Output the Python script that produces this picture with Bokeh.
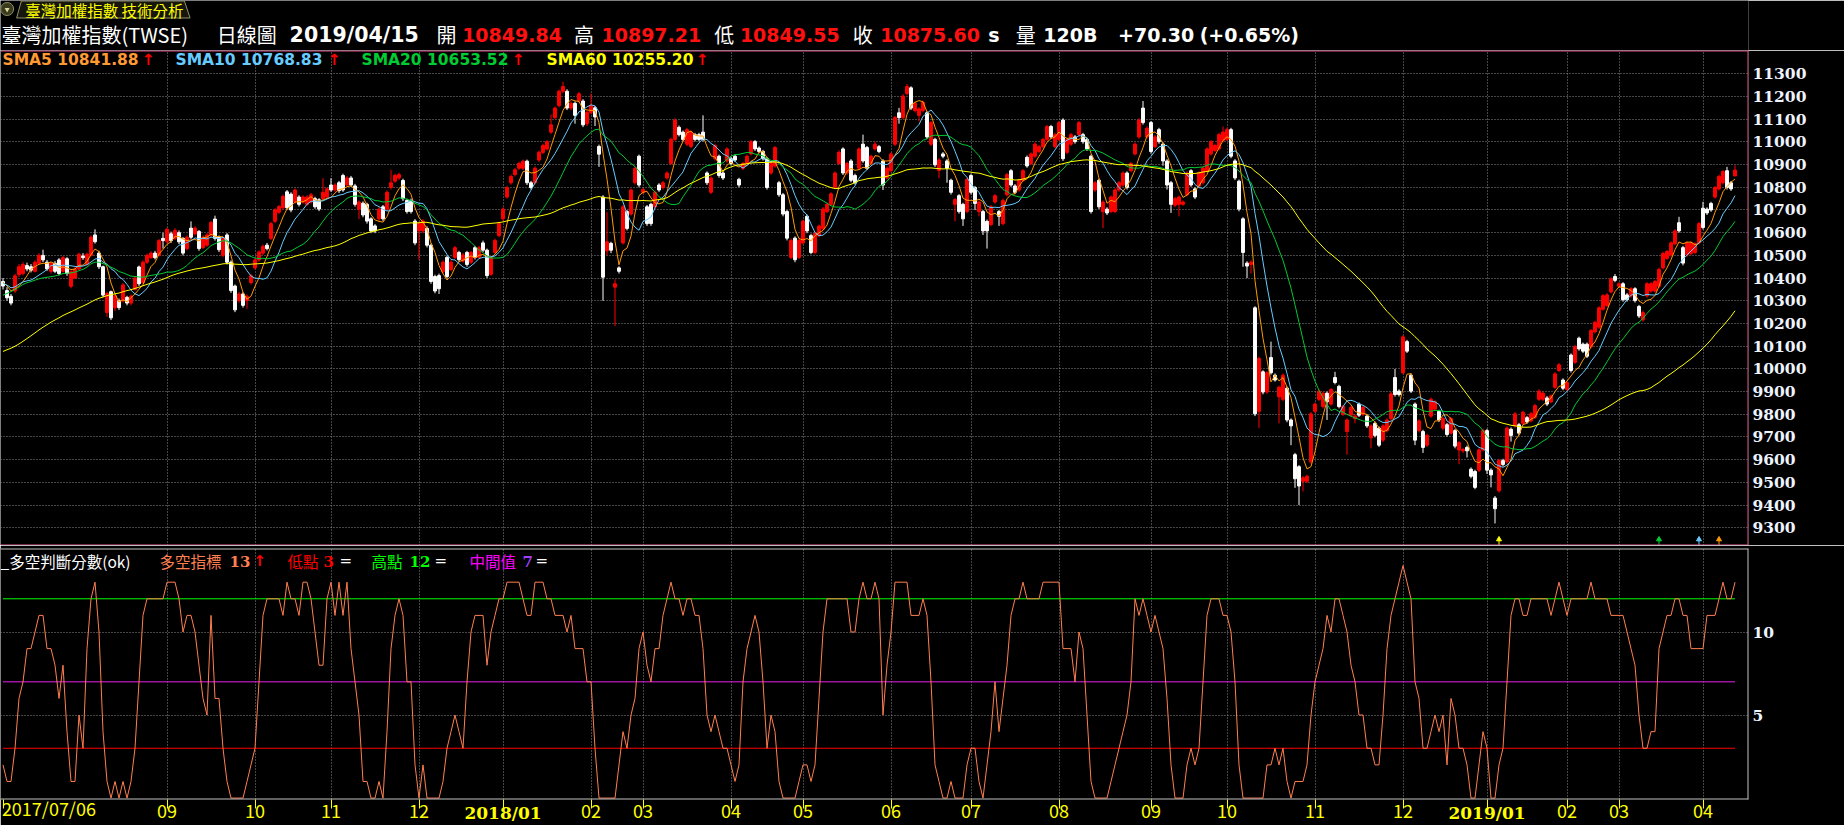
import numpy as np
import pandas as pd
from bokeh.plotting import figure
from bokeh.layouts import column
from bokeh.models import Range1d, FixedTicker, Grid, ColumnDataSource, Span, LinearAxis
from bokeh.core.properties import value
from bokeh.embed import file_html
from bokeh.resources import INLINE

# ---------------- trading calendar (TWSE) ----------------
holidays = ["2017-10-04", "2017-10-09", "2017-10-10", "2018-01-01", "2018-02-13", "2018-02-14",
            "2018-02-15", "2018-02-16", "2018-02-19", "2018-02-20", "2018-02-28", "2018-04-04",
            "2018-04-05", "2018-04-06", "2018-05-01", "2018-06-18", "2018-09-24", "2018-10-10",
            "2018-12-31", "2019-01-01", "2019-01-30", "2019-01-31", "2019-02-01", "2019-02-04",
            "2019-02-05", "2019-02-06", "2019-02-07", "2019-02-08", "2019-02-28", "2019-04-04",
            "2019-04-05"]
saturday_sessions = ["2017-09-30", "2018-12-22"]
dates = (pd.bdate_range("2017-07-06", "2019-04-15")
         .union(pd.DatetimeIndex(saturday_sessions))
         .difference(pd.DatetimeIndex(holidays)))

# ---------------- data ----------------
pre_close = [9870, 9880, 9890, 9840, 9760, 9720, 9690, 9700, 9730, 9760, 9770, 9800, 9850, 9860, 9870,
             9920, 9950, 9940, 9970, 10000, 10010, 10000, 10020, 10010, 9990, 9980, 10010, 10050, 10070,
             10020, 10000, 10060, 10080, 10040,
             10090, 10140, 10190, 10180, 10200, 10210, 10160, 10120, 10220, 10240, 10230, 10290, 10330,
             10350, 10380, 10400, 10390, 10410, 10370, 10330, 10360, 10395,
             10400, 10370, 10380]

open_ = [10385,10345,10320,10343,10415,10420,10455,10450,10430,10465,
         10500,10470,10430,10465,10480,10430,10485,10364,10400,10440,
         10497,10460,10500,10590,10510,10450,10248,10340,10269,10300,
         10300,10315,10290,10350,10449,10380,10470,10490,10510,10500,
         10575,10560,10595,10575,10600,10575,10530,10620,10595,10605,
         10535,10545,10590,10660,10580,10500,10590,10470,10365,10300,
         10330,10300,10380,10445,10480,10510,10545,10575,10650,10690,
         10710,10780,10770,10735,10757,10735,10725,10735,10750,10745,
         10750,10757,10810,10788,10820,10852,10810,10841,10806,10704,
         10730,10725,10661,10630,10661,10714,10704,10799,10827,10841,
         10830,10742,10742,10651,10608,10608,10619,10545,10407,10411,
         10428,10491,10438,10491,10513,10475,10513,10470,10534,10491,
         10555,10523,10417,10513,10587,10661,10757,10820,10856,10884,
         10884,10915,10820,10820,10920,10954,10969,11043,11107,11160,
         11223,11223,11149,11170,11181,11180,11080,11130,11150,10980,
         10757,10520,10553,10360,10445,10555,10693,10682,10820,10937,
         10778,10714,10725,10714,10810,10799,10841,10905,11011,11064,
         11043,10990,10980,11032,11032,11043,10863,10778,10926,10937,
         10863,10916,10926,10937,10835,10884,10905,10947,11001,10973,
         10958,10926,10863,10894,10820,10767,10693,10491,10576,10491,
         10555,10672,10587,10513,10587,10619,10693,10725,10799,10905,
         10969,10863,10916,10852,10884,10990,10975,10905,10969,10979,
         10916,10841,10873,10990,11128,11107,11213,11238,11138,11117,
         11138,11128,10990,11011,10874,10947,10916,10831,10725,10763,
         10725,10693,10852,10799,10693,10693,10650,10636,10735,10693,
         10640,10767,10873,10806,10788,10831,10932,10905,10937,10958,
         10979,11011,11068,10979,11011,11096,10954,10990,11022,11032,
         11032,11011,10937,10788,10831,10693,10704,10693,10693,10788,
         10810,10863,10873,10947,11022,11149,11022,11085,10979,11054,
         10990,10916,10820,10721,10725,10725,10767,10873,10793,10805,
         10820,10873,10947,10962,10969,11005,11011,11054,10916,10827,
         10661,10466,10460,10269,9813,9987,9898,10050,9972,9877,
         9866,9915,9775,9622,9569,9505,9505,9590,9813,9866,
         9834,9893,9845,9962,9923,9800,9724,9796,9781,9845,
         9800,9792,9696,9760,9739,9686,9728,9781,9962,9902,
         9983,10120,9972,9845,9728,9724,9664,9792,9823,9813,
         9739,9754,9717,9728,9643,9639,9654,9558,9548,9554,
         9643,9728,9554,9431,9463,9596,9590,9734,9749,9754,
         9760,9785,9771,9787,9866,9866,9872,9855,9919,9993,
         9951,9909,10061,10029,10135,10109,10109,10098,10163,10184,
         10263,10279,10339,10407,10364,10375,10326,10322,10353,10275,
         10216,10322,10343,10343,10364,10445,10487,10502,10551,10644,
         10534,10502,10508,10513,10555,10708,10704,10729,10757,10793,
         10820,10873,10820,10849.84]

close = [10365,10313,10290,10410,10450,10460,10440,10435,10470,10500,
         10480,10440,10465,10430,10420,10490,10420,10428,10440,10505,
         10490,10505,10580,10560,10450,10325,10332,10225,10322,10270,
         10370,10290,10320,10400,10375,10470,10500,10510,10490,10565,
         10565,10615,10565,10610,10560,10510,10580,10580,10620,10530,
         10580,10590,10645,10575,10525,10575,10470,10345,10260,10330,
         10280,10320,10410,10480,10515,10540,10530,10640,10700,10715,
         10760,10710,10700,10788,10725,10757,10757,10767,10714,10704,
         10778,10793,10788,10810,10785,10788,10841,10810,10725,10735,
         10678,10651,10608,10608,10704,10661,10778,10820,10852,10856,
         10750,10693,10693,10555,10640,10651,10545,10385,10343,10353,
         10470,10407,10470,10534,10481,10502,10460,10513,10491,10534,
         10523,10411,10491,10566,10640,10704,10799,10848,10877,10905,
         10915,10820,10799,10884,10954,10984,11001,11075,11149,11223,
         11244,11149,11170,11117,11212,11075,11130,11160,11110,10946,
         10404,10560,10523,10375,10430,10714,10619,10788,10884,10810,
         10790,10640,10640,10778,10788,10820,10863,11011,11096,11032,
         11011,11054,11043,11011,11011,11011,10820,10841,10984,10852,
         10841,10969,10905,10920,10810,10905,10937,11001,10969,10958,
         10926,10799,10905,10975,10767,10682,10576,10566,10481,10566,
         10651,10608,10513,10597,10629,10704,10725,10771,10863,10954,
         10863,10905,10831,10820,10969,10916,10884,10937,10990,10958,
         10810,10884,10947,11107,11107,11202,11244,11149,11170,11145,
         11174,11022,11085,10899,10920,10937,10884,10778,10746,10693,
         10661,10835,10778,10729,10735,10608,10608,10714,10763,10672,
         10742,10856,10810,10778,10831,10873,10894,10947,10990,10979,
         11011,11068,11022,11032,11085,10926,11011,11032,11001,11085,
         11001,10969,10693,10820,10714,10735,10687,10757,10788,10820,
         10863,10799,10905,10990,11096,11085,11060,10958,11022,11001,
         10916,10810,10725,10750,10757,10735,10863,10810,10757,10863,
         10884,10969,11001,10984,11032,11043,11054,10937,10841,10704,
         10513,10453,10470,9802,10046,9898,9983,9983,9951,9919,
         9972,9775,9749,9516,9484,9520,9527,9802,9845,9902,
         9893,9855,9909,9940,9834,9834,9775,9830,9792,9796,
         9830,9749,9749,9707,9664,9749,9775,9890,9887,9887,
         10141,10078,9902,9686,9771,9654,9707,9866,9855,9775,
         9781,9711,9781,9660,9675,9645,9639,9527,9478,9643,
         9728,9554,9533,9384,9596,9579,9739,9707,9802,9717,
         9809,9766,9802,9838,9902,9893,9845,9881,9978,10018,
         9915,9940,9993,10098,10088,10078,10056,10169,10205,10269,
         10322,10326,10396,10390,10375,10305,10305,10353,10301,10233,
         10248,10375,10375,10385,10438,10508,10517,10555,10608,10608,
         10466,10555,10555,10551,10640,10623,10687,10700,10799,10848,
         10869,10799,10793,10875.60]

high = [10400,10360,10330,10418,10462,10470,10468,10462,10478,10510,
        10525,10480,10472,10475,10488,10498,10492,10435,10448,10512,
        10510,10512,10588,10615,10520,10455,10340,10345,10330,10310,
        10378,10322,10328,10408,10455,10478,10508,10518,10520,10572,
        10600,10622,10605,10620,10610,10580,10588,10650,10628,10612,
        10588,10598,10652,10675,10588,10582,10598,10478,10372,10338,
        10338,10328,10418,10488,10522,10548,10555,10648,10708,10722,
        10768,10788,10778,10795,10765,10765,10765,10775,10758,10752,
        10840,10800,10840,10818,10828,10860,10850,10850,10815,10742,
        10738,10732,10668,10638,10712,10722,10786,10877,10860,10865,
        10838,10750,10750,10660,10648,10660,10628,10552,10415,10420,
        10478,10500,10478,10542,10520,10510,10520,10520,10542,10542,
        10565,10530,10498,10574,10648,10712,10806,10856,10885,10912,
        10922,10922,10828,10892,10962,10992,11008,11120,11156,11230,
        11265,11232,11178,11178,11220,11188,11138,11213,11158,10988,
        10765,10690,10560,10395,10452,10722,10700,10795,10892,10944,
        10798,10722,10732,10786,10818,10828,10870,11018,11104,11072,
        11050,11062,11050,11040,11040,11117,10870,10848,10992,10944,
        10870,10976,10934,10944,10842,10912,10944,11008,11008,10980,
        10965,10934,10912,10982,10828,10775,10700,10574,10584,10574,
        10658,10680,10595,10604,10636,10712,10732,10778,10870,10962,
        10976,10912,10924,10860,10976,11032,10982,10944,11001,10986,
        10924,10892,10954,11114,11150,11210,11255,11245,11178,11152,
        11182,11135,11092,11018,10928,10955,10924,10838,10752,10770,
        10732,10842,10860,10806,10742,10700,10658,10722,10770,10700,
        10750,10864,10880,10814,10838,10880,10940,10954,10998,10986,
        11018,11075,11075,11040,11092,11104,11018,11040,11030,11092,
        11040,11018,10944,10828,10838,10742,10712,10764,10796,10828,
        10870,10870,10912,10998,11104,11180,11068,11092,11030,11062,
        10998,10924,10828,10758,10764,10742,10870,10880,10800,10870,
        10892,10976,11008,10992,11040,11068,11062,11062,10924,10834,
        10668,10474,10478,10276,10054,9994,9990,10120,9980,9926,
        9980,9922,9782,9630,9576,9528,9534,9810,9852,9910,
        9900,9900,9916,9987,9930,9842,9782,9838,9800,9852,
        9838,9800,9756,9768,9746,9756,9782,9898,10000,9910,
        10148,10128,9980,9852,9778,9732,9714,9874,9862,9820,
        9788,9762,9788,9736,9682,9652,9662,9566,9556,9650,
        9736,9736,9562,9440,9604,9604,9746,9742,9810,9762,
        9816,9792,9810,9846,9910,9900,9880,9888,9986,10026,
        9958,9948,10068,10106,10142,10116,10116,10176,10212,10276,
        10330,10334,10404,10418,10382,10382,10334,10360,10360,10282,
        10256,10382,10382,10392,10446,10516,10524,10562,10616,10670,
        10542,10562,10562,10558,10648,10736,10712,10736,10806,10856,
        10876,10890,10828,10897.21]

low = [10350,10300,10280,10335,10405,10412,10430,10425,10425,10460,
       10470,10432,10420,10422,10412,10425,10410,10355,10395,10435,
       10480,10455,10495,10552,10440,10315,10230,10215,10255,10260,
       10292,10280,10280,10345,10365,10375,10462,10485,10482,10495,
       10530,10552,10555,10568,10550,10500,10522,10572,10588,10520,
       10528,10538,10582,10565,10515,10492,10460,10335,10250,10292,
       10270,10265,10372,10438,10472,10502,10522,10568,10642,10682,
       10702,10700,10690,10728,10715,10728,10718,10728,10705,10695,
       10742,10750,10780,10780,10775,10780,10802,10802,10715,10660,
       10668,10640,10598,10598,10652,10652,10696,10790,10820,10832,
       10740,10684,10684,10545,10480,10598,10535,10375,10333,10330,
       10420,10398,10430,10484,10472,10468,10450,10462,10482,10484,
       10515,10400,10410,10505,10580,10652,10750,10812,10848,10876,
       10876,10810,10790,10812,10912,10946,10962,11035,11100,11152,
       11215,11140,11140,11080,11172,11065,11070,11122,11070,10890,
       10300,10500,10510,10189,10420,10548,10610,10675,10812,10800,
       10770,10630,10630,10706,10780,10790,10834,10898,11004,11024,
       11002,10982,10972,11002,11002,11002,10810,10770,10918,10842,
       10832,10908,10896,10912,10800,10876,10898,10940,10960,10950,
       10918,10790,10855,10886,10758,10672,10566,10484,10470,10484,
       10548,10598,10505,10505,10580,10612,10686,10718,10792,10898,
       10854,10855,10822,10812,10876,10908,10876,10898,10962,10950,
       10788,10834,10866,10982,11080,11100,11205,11140,11130,11090,
       11130,11012,10982,10890,10840,10928,10820,10768,10650,10684,
       10630,10686,10768,10700,10672,10590,10530,10628,10728,10630,
       10632,10760,10802,10770,10780,10824,10886,10898,10930,10950,
       10972,11004,11014,10972,11004,10916,10946,10982,10992,11024,
       10992,10960,10684,10780,10704,10620,10678,10686,10686,10780,
       10802,10790,10866,10940,11014,11076,11014,10948,10972,10992,
       10895,10790,10687,10712,10672,10718,10760,10802,10748,10798,
       10812,10866,10940,10955,10962,10998,11004,10928,10832,10694,
       10450,10400,10420,9792,9739,9888,9890,9975,9944,9760,
       9858,9765,9664,9476,9400,9460,9498,9582,9806,9858,
       9826,9775,9838,9932,9826,9792,9622,9788,9760,9788,
       9792,9740,9650,9698,9656,9678,9720,9774,9878,9878,
       9976,10070,9894,9664,9720,9630,9656,9784,9815,9766,
       9730,9702,9710,9650,9580,9630,9610,9518,9470,9546,
       9636,9537,9478,9319,9455,9570,9582,9680,9742,9708,
       9752,9758,9764,9780,9858,9858,9836,9848,9912,9986,
       9906,9902,9984,10022,10080,10070,10048,10090,10156,10176,
       10256,10272,10332,10382,10356,10296,10296,10314,10292,10224,
       10208,10314,10336,10336,10356,10438,10480,10494,10544,10600,
       10456,10494,10500,10505,10548,10614,10678,10692,10750,10786,
       10812,10790,10784,10849.55]

# 多空判斷分數 (bull/bear score)
score = [2,1,1,3,6,7,9,9,10,11, 11,9,9,8,6,8,4,1,1,5, 3,9,12,13,10,4,1,0,1,0,
         1,0,1,3,7,11,12,12,12,12, 12,13,13,13,12,10,11,11,10,8, 6,5,11,6,6,3,1,0,0,0,
         0,1,2,3,7,11,12,12,12,12, 11,13,12,12,11,13,13,12,10,8, 8,12,13,11,13,11,13,9,7,5,
         1,1,0,0,1,0,4,9,11,12, 11,7,7,2,0,2,0,0,0,0, 1,3,4,5,4,3,7,10,11,11,
         11,8,10,11,12,12,13,13,13,13, 12,11,11,13,13,13,12,12,11,11, 11,10,11,9,9,9,7,7,3,0,
         0,0,0,0,2,4,3,5,6,9, 10,8,7,9,9,11,12,13,12,12, 11,12,12,11,11,9,5,4,5,4,
         3,3,2,1,2,7,9,10,11,10, 7,3,5,4,1,0,0,0,0,1, 2,2,1,2,6,10,12,12,12,12,
         12,12,10,10,12,13,12,12,13,12, 5,8,10,13,13,13,13,11,11,11, 12,11,7,2,1,0,0,1,0,0,
         0,2,3,3,1,0,2,4,7,4, 6,8,11,12,12,13,12,12,12,12, 13,13,13,13,13,9,9,9,7,10,
         9,5,1,0,0,0,0,1,2,3, 4,5,7,12,11,12,11,10,11,10, 9,6,2,0,0,0,2,3,2,3,
         7,11,12,12,12,11,11,10,7,2, 0,0,0,0,0,0,2,2,3,2, 3,1,0,1,1,1,2,5,7,8,
         9,11,10,12,12,11,10,8,7,5, 5,3,3,2,2,5,9,11,12,13, 14,13,12,7,6,3,3,4,5,4,
         5,2,6,5,3,3,2,0,0,2, 4,3,0,0,2,3,7,11,12,12, 11,11,12,12,12,12,12,11,12,13,
         12,11,12,12,12,12,12,13,12,12, 12,12,11,11,11,11,10,9,8,5, 3,3,4,4,9,10,11,11,12,12,
         11,11,9,9,9,9,11,11,11,12, 13,12,12,13]

ma_periods = [5, 10, 20, 60]
ma_colors = ["#ff9900", "#66ccff", "#00c832", "#ffff00"]
ma_text_colors = ["#ff9933", "#66ccff", "#00cc33", "#ffff00"]
ma_labels = ["SMA5 10841.88", "SMA10 10768.83", "SMA20 10653.52", "SMA60 10255.20"]
level_high, level_mid, level_low = 12, 7, 3
signal_idx = [374, 414, 424, 429]
signal_colors = ["#ffff00", "#00cc33", "#66ccff", "#ff9900"]
price_ticks = list(range(9300, 11301, 100))
score_ticks = [5, 10]
first_date_label = "2017/07/06"

n = len(close)
assert len(dates) == n == len(open_) == len(high) == len(low) == len(score), (len(dates), n)

idx = np.arange(n)
o = np.array(open_, float); c = np.array(close, float)
hi = np.array(high, float); lo = np.array(low, float)

# month ticks: first session of each month (the month right after the start is not labelled)
months = dates.to_period("M")
month_idx = [i for i in range(1, n) if months[i] != months[i - 1] and i > 30]
jan_idx = [i for i in month_idx if dates[i].month == 1]
mid_idx = [i for i in month_idx if dates[i].month != 1]
mid_labels = {i: dates[i].strftime("%m") for i in mid_idx}
jan_labels = {i: dates[i].strftime("%Y/%m") for i in jan_idx}

# moving averages
full_close = np.array(pre_close + close, float)
sma = {k: np.convolve(full_close, np.ones(k) / k, mode="valid")[-n:] for k in ma_periods}

# ---------------- layout constants ----------------
BG = "#000000"
PINK = "#e8508c"
GRID = "#8c8c8c"
BORDER_LOW = "#c4c4c4"
YELLOW = "#ffff00"
CJK = "Noto Sans CJK TC"
TOTAL_W = 1844
FRAME_W = 1748
RIGHT_W = TOTAL_W - FRAME_W
XR = Range1d(-0.625, 436.375)
MAIN_BOT, MAIN_TOP = 9222.0, 11402.6
LOW_FRAME_H = 248
LOW_BOT = -0.085
LOW_TOP = LOW_BOT + LOW_FRAME_H / 16.41


def dx(page_x):
    return XR.start + page_x / 4.0


def dy_main(page_y):
    return MAIN_TOP - (page_y - 50) * (MAIN_TOP - MAIN_BOT) / 495.0


def dy_low(page_y):
    return LOW_TOP - (page_y - 548) * (LOW_TOP - LOW_BOT) / LOW_FRAME_H


def put_text(fig, xs, ys, texts, color, font, size, style="normal"):
    # ys are the vertical centres of the glyph rows
    fig.text(x=xs, y=ys, text=texts, text_color=color, text_font=value(font),
             text_font_size=value(size), text_font_style=style,
             text_baseline="middle", text_align="left")


# ---------------- header ----------------
hdr = figure(width=TOTAL_W, height=50, x_range=Range1d(0, TOTAL_W), y_range=Range1d(50, 0),
             x_axis_location=None, y_axis_location=None, min_border=0, outline_line_color=None,
             background_fill_color=BG, border_fill_color=BG, toolbar_location=None,
             output_backend="svg")
hdr.grid.visible = False
hdr.patch([17, 22, 194, 200], [17.5, 0.5, 0.5, 17.5], fill_color="#16160c", line_color="#8f8f70", line_width=1)
hdr.scatter([7], [8.5], size=13, fill_color="#3a3a1c", line_color="#8f8f60", marker="circle")
hdr.scatter([7], [9], size=5, fill_color="#d8d8a0", line_color=None, marker="inverted_triangle")
put_text(hdr, [26], [9.5], ["臺灣加權指數 技術分析"], YELLOW, CJK, "15.5px")

HY = 34
put_text(hdr, [1, 228, 460, 605, 753, 899, 1071], [HY] * 7,
         ["臺灣加權指數(TWSE)", "日線圖", "開", "高", "低", "收", "量"], "#ffffff", CJK, "20px")
put_text(hdr, [305], [HY], ["2019/04/15"], "#ffffff", "DejaVu Sans", "20.5px", "bold")
put_text(hdr, [1042, 1100, 1179, 1265], [HY] * 4,
         ["s", "120B", "+70.30", "(+0.65%)"], "#ffffff", "DejaVu Sans", "19px", "bold")
put_text(hdr, [487, 634, 780, 928], [HY] * 4,
         ["10849.84", "10897.21", "10849.55", "10875.60"], "#ff1010", "DejaVu Sans", "19px", "bold")

# ---------------- main price panel ----------------
p = figure(width=TOTAL_W, height=495, x_range=XR, y_range=Range1d(MAIN_BOT, MAIN_TOP),
           x_axis_location=None, y_axis_location="right", min_border_left=0, min_border_right=RIGHT_W,
           min_border_top=0, min_border_bottom=0, outline_line_color=None,
           background_fill_color=BG, border_fill_color=BG, toolbar_location=None,
           output_backend="svg")
p.grid.visible = False
p.add_layout(Grid(dimension=0, ticker=FixedTicker(ticks=month_idx), grid_line_color=GRID,
                  grid_line_dash="1 2", grid_line_width=1))
p.add_layout(Grid(dimension=1, ticker=FixedTicker(ticks=price_ticks), grid_line_color=GRID,
                  grid_line_dash="1 2", grid_line_width=1))

up = c >= o
for mask, col in ((up, "#ff0000"), (~up, "#ffffff")):
    src = ColumnDataSource(dict(x=idx[mask], top=np.maximum(o, c)[mask], bottom=np.minimum(o, c)[mask],
                                high=hi[mask], low=lo[mask]))
    p.segment(x0="x", y0="low", x1="x", y1="high", source=src, line_color=col, line_width=1)
    p.vbar(x="x", width=0.72, top="top", bottom="bottom", source=src, fill_color=col,
           line_color=col, line_width=1)

for k, col in zip(ma_periods, ma_colors):
    p.line(idx, sma[k], line_color=col, line_width=1)

sig = ColumnDataSource(dict(x=signal_idx, y0=[MAIN_BOT] * len(signal_idx),
                            y1=[MAIN_BOT + 30] * len(signal_idx), ym=[MAIN_BOT + 27] * len(signal_idx),
                            c=signal_colors))
p.segment(x0="x", y0="y0", x1="x", y1="y1", line_color="c", source=sig, line_width=1)
p.scatter(x="x", y="ym", marker="triangle", size=5, fill_color="c", line_color="c", source=sig)

ya = p.yaxis[0]
ya.ticker = FixedTicker(ticks=price_ticks)

# legend row
leg_x = [2, 175, 361, 546]
arrow_x = [141, 327, 511, 695]
LEG_Y = dy_main(59)
for lx, txt, col in zip(leg_x, ma_labels, ma_text_colors):
    put_text(p, [dx(lx)], [LEG_Y], [txt], col, "DejaVu Sans", "15.5px", "bold")
put_text(p, [dx(a) for a in arrow_x], [LEG_Y] * 4, ["↑"] * 4, "#ff0000", "DejaVu Sans", "15.5px", "bold")

p.add_layout(Span(location=MAIN_TOP - 2.2, dimension="width", line_color=PINK, line_width=1))
p.add_layout(Span(location=MAIN_BOT + 2.2, dimension="width", line_color=PINK, line_width=1))
p.add_layout(Span(location=XR.end - 0.125, dimension="height", line_color=PINK, line_width=1))

# ---------------- score panel ----------------
pl = figure(width=TOTAL_W, height=280, x_range=XR, y_range=Range1d(LOW_BOT, LOW_TOP),
            x_axis_location="below", y_axis_location="right", min_border_left=0, min_border_right=RIGHT_W,
            min_border_top=3, min_border_bottom=0, outline_line_color=None,
            background_fill_color=BG, border_fill_color=BG, toolbar_location=None,
            output_backend="svg")
pl.grid.visible = False
pl.add_layout(Grid(dimension=0, ticker=FixedTicker(ticks=month_idx), grid_line_color=GRID,
                   grid_line_dash="1 2", grid_line_width=1))
pl.add_layout(Grid(dimension=1, ticker=FixedTicker(ticks=score_ticks), grid_line_color=GRID,
                   grid_line_dash="1 2", grid_line_width=1))

pl.line(idx, np.full(n, level_high), line_color="#00ff00", line_width=1)
pl.line(idx, np.full(n, level_mid), line_color="#e81ee8", line_width=1)
pl.line(idx, np.full(n, level_low), line_color="#ff0000", line_width=1)
pl.line(idx, score, line_color="#ff7f50", line_width=1)

pl.add_layout(Span(location=LOW_TOP - 0.03, dimension="width", line_color=BORDER_LOW, line_width=1))
pl.add_layout(Span(location=LOW_BOT + 0.03, dimension="width", line_color=BORDER_LOW, line_width=1))
pl.add_layout(Span(location=XR.end - 0.125, dimension="height", line_color=BORDER_LOW, line_width=1))

yb = pl.yaxis[0]
yb.ticker = FixedTicker(ticks=score_ticks)

for ax in (ya, yb):
    ax.major_label_text_color = "#eef4ff"
    ax.major_label_text_font = "DejaVu Serif"
    ax.major_label_text_font_style = "bold"
    ax.major_label_text_font_size = "15.5px"
    ax.major_tick_line_color = None
    ax.major_tick_out = 0
    ax.major_tick_in = 0
    ax.minor_tick_line_color = None
    ax.axis_line_color = None
    ax.major_label_standoff = 4


def style_x_axis(ax, ticks, labels, tick_color, tick_out, standoff, font, size, style):
    ax.ticker = FixedTicker(ticks=ticks)
    ax.major_label_overrides = labels
    ax.major_tick_line_color = tick_color
    ax.major_tick_out = tick_out
    ax.major_tick_in = 0
    ax.minor_tick_line_color = None
    ax.axis_line_color = None
    ax.major_label_text_color = YELLOW
    ax.major_label_text_font = font
    ax.major_label_text_font_style = style
    ax.major_label_text_font_size = size
    ax.major_label_standoff = standoff


# month labels + yellow tick marks (incl. the mark at the first session)
xa = pl.xaxis[0]
style_x_axis(xa, [0] + month_idx, {0: "", **{i: "" for i in jan_idx}, **mid_labels},
             YELLOW, 9, -5, CJK, "18px", "normal")
# first date label (drawn on the same row as the month labels)
first_pos = dx(48.4)
xb = LinearAxis()
pl.add_layout(xb, "below")
style_x_axis(xb, [first_pos], {first_pos: first_date_label}, None, 0, -26, CJK, "18px", "normal")
# bold year labels (same row)
xc = LinearAxis()
pl.add_layout(xc, "below")
style_x_axis(xc, jan_idx, jan_labels, None, 0, -21, "DejaVu Serif", "17px", "bold")

# score legend
yb_leg = dy_low(560.5)
put_text(pl, [dx(0)], [yb_leg], ["_多空判斷分數(ok)"], "#ffffff", CJK, "15.5px")
put_text(pl, [dx(159)], [yb_leg], ["多空指標"], "#ff7f50", CJK, "15.5px")
put_text(pl, [dx(229)], [yb_leg], ["13"], "#ff7f50", "DejaVu Serif", "15px", "bold")
put_text(pl, [dx(253)], [yb_leg], ["↑"], "#ff0000", "DejaVu Sans", "15px", "bold")
put_text(pl, [dx(287)], [yb_leg], ["低點"], "#ff0000", CJK, "15.5px")
put_text(pl, [dx(323)], [yb_leg], ["3"], "#ff0000", "DejaVu Serif", "15px", "bold")
put_text(pl, [dx(371)], [yb_leg], ["高點"], "#00ff00", CJK, "15.5px")
put_text(pl, [dx(409)], [yb_leg], ["12"], "#00ff00", "DejaVu Serif", "15px", "bold")
put_text(pl, [dx(469)], [yb_leg], ["中間值"], "#ff00ff", CJK, "15.5px")
put_text(pl, [dx(522)], [yb_leg], ["7"], "#a040ff", "DejaVu Serif", "15px", "bold")
put_text(pl, [dx(339), dx(434), dx(535)], [yb_leg] * 3, ["=", "=", "="], "#ffffff", "DejaVu Sans", "15px")

layout = column(hdr, p, pl, spacing=0)
open("out.html", "w").write(file_html(layout, INLINE, title="臺灣加權指數 技術分析"))
